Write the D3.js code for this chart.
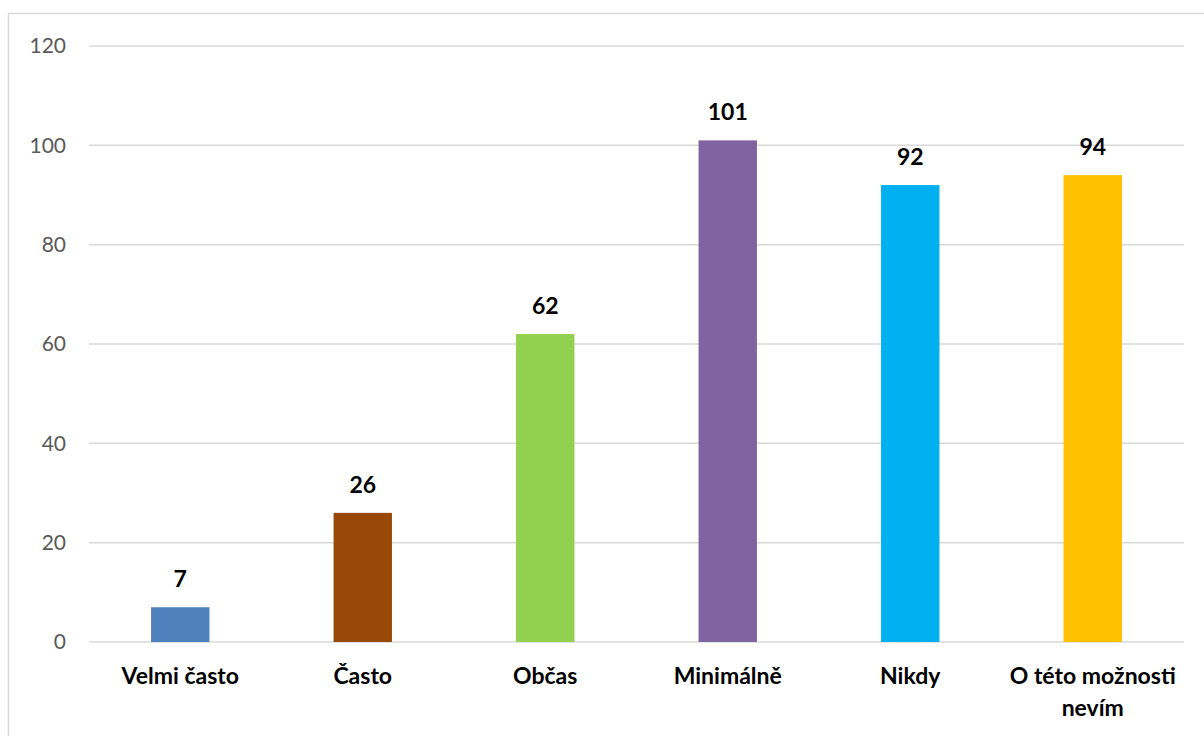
<!DOCTYPE html>
<html>
<head>
<meta charset="utf-8">
<script src="https://cdn.jsdelivr.net/npm/d3@7"></script>
<style>
  body { margin: 0; background: #fff; }
  svg { display: block; }
</style>
</head>
<body>
<svg id="chart" width="1204" height="736"></svg>
<script>
const categories = ["Velmi často", "Často", "Občas", "Minimálně", "Nikdy", "O této možnosti nevím"];
const values = [7, 26, 62, 101, 92, 94];
const barColors = ["#4F81BD", "#984807", "#92D050", "#8064A2", "#00B0F0", "#FFC000"];
const yTicks = [0, 20, 40, 60, 80, 100, 120];

const svg = d3.select("#chart");
const W = 1204, H = 736;
const margin = { left: 89, top: 46 };
const plotRight = 1184, plotBottom = 642;
const font = "Lato, 'Open Sans', sans-serif";

// outer chart frame
svg.append("rect")
  .attr("x", 8.5).attr("y", 13.5)
  .attr("width", W + 20).attr("height", H + 20)
  .attr("fill", "none").attr("stroke", "#D9D9D9").attr("stroke-width", 1.5);

const x = d3.scaleBand().domain(categories).range([margin.left, plotRight]).paddingInner(0.68).paddingOuter(0.34);
const y = d3.scaleLinear().domain([0, 120]).range([plotBottom, margin.top]);

// gridlines
svg.append("g").selectAll("line").data(yTicks).join("line")
  .attr("x1", margin.left).attr("x2", plotRight)
  .attr("y1", d => y(d)).attr("y2", d => y(d))
  .attr("stroke", "#D9D9D9").attr("stroke-width", 1.5);

// y axis labels
const yAxis = d3.axisLeft(y).tickValues(yTicks).tickSize(0).tickPadding(0);
const gy = svg.append("g").attr("transform", "translate(66,0)").call(yAxis);
gy.select(".domain").remove();
gy.selectAll("text")
  .attr("font-family", font)
  .attr("font-size", 21).attr("fill", "#595959");

// bars
svg.append("g").selectAll("rect").data(values).join("rect")
  .attr("x", (d, i) => x(categories[i]))
  .attr("width", x.bandwidth())
  .attr("y", d => y(d))
  .attr("height", d => y(0) - y(d))
  .attr("fill", (d, i) => barColors[i]);

// value labels
svg.append("g").selectAll("text").data(values).join("text")
  .attr("x", (d, i) => x(categories[i]) + x.bandwidth() / 2)
  .attr("y", d => y(d) - 20)
  .attr("text-anchor", "middle")
  .attr("font-family", font)
  .attr("font-weight", "bold").attr("font-size", 23).attr("fill", "#000")
  .text(d => d);

// category labels (wrapped where they exceed the band)
const catLines = c => c === "O této možnosti nevím" ? ["O této možnosti", "nevím"] : [c];
const gx = svg.append("g");
categories.forEach(c => {
  const cx = x(c) + x.bandwidth() / 2;
  const t = gx.append("text")
    .attr("x", cx)
    .attr("y", 684)
    .attr("text-anchor", "middle")
    .attr("font-family", font)
    .attr("font-weight", "bold").attr("font-size", 23).attr("fill", "#000");
  catLines(c).forEach((ln, k) => {
    t.append("tspan").attr("x", cx).attr("dy", k === 0 ? 0 : 32).text(ln);
  });
});
</script>
</body>
</html>
